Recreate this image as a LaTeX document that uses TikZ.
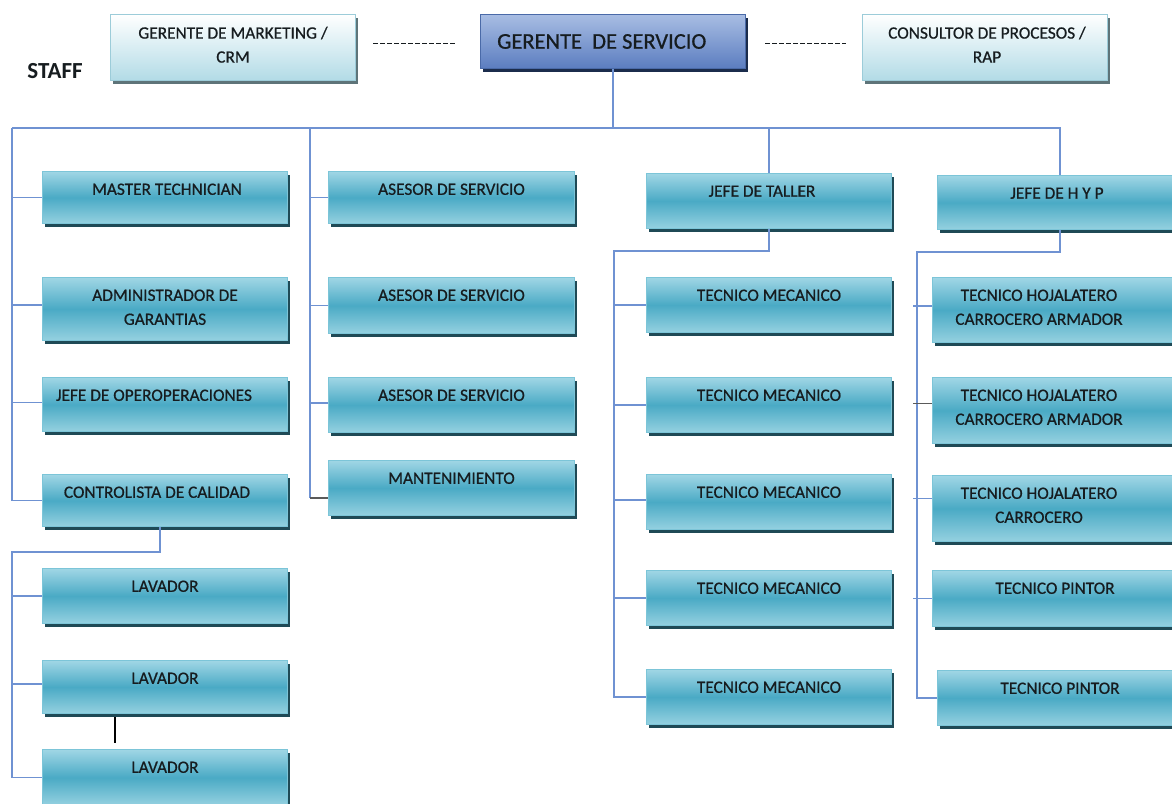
\documentclass[tikz,border=0pt]{standalone}
\usepackage{fontspec}
\setmainfont{Carlito}
\newfontfamily\boxfont{Carlito}[FakeBold=0.7]
\usetikzlibrary{shadows}

\definecolor{aquaTop}{HTML}{A0D6E5}
\definecolor{aquaMid}{HTML}{4AAAC5}
\definecolor{aquaBot}{HTML}{95D1E0}
\definecolor{aquaEdge}{HTML}{7CC5D8}
\definecolor{aquaShadow}{HTML}{1F4A56}
\definecolor{blueTop}{HTML}{A8BDE3}
\definecolor{blueBot}{HTML}{5B7DC0}
\definecolor{blueEdge}{HTML}{4A6AA8}
\definecolor{blueShadow}{HTML}{1B2C4C}
\definecolor{paleBot}{HTML}{B2DBE6}
\definecolor{paleEdge}{HTML}{9CCCD9}
\definecolor{paleShadow}{HTML}{5E7479}
\definecolor{linkBlue}{HTML}{6F92D2}
\definecolor{stubGray}{HTML}{5A5A5A}
\definecolor{ink}{HTML}{161C1F}

\tikzset{
  unitbox/.style={rectangle, inner sep=0pt, line width=1pt, draw=aquaEdge,
    top color=aquaTop, bottom color=aquaBot, middle color=aquaMid,
    drop shadow={shadow xshift=2.5pt, shadow yshift=-3pt, fill=aquaShadow, opacity=1}},
  headbox/.style={rectangle, inner sep=0pt, line width=1pt, draw=blueEdge,
    top color=blueTop, bottom color=blueBot,
    drop shadow={shadow xshift=2.5pt, shadow yshift=-3pt, fill=blueShadow, opacity=1}},
  stafbox/.style={rectangle, inner sep=0pt, line width=1pt, draw=paleEdge,
    top color=white, bottom color=paleBot,
    drop shadow={shadow xshift=2.5pt, shadow yshift=-3pt, fill=paleShadow, opacity=1}},
  boxtext/.style={inner sep=0pt, align=center, text=ink,
    font=\boxfont\fontsize{17.3}{24}\selectfont},
  conn/.style={draw=linkBlue, line width=1.9pt},
  grayconn/.style={draw=stubGray, line width=1.9pt},
  staffdash/.style={draw=ink, line width=1.3pt, dash pattern=on 4.5pt off 2.5pt},
}

% style, name, x, y (top), width, height, text x-offset, text
\newcommand\orgbox[8]{%
  \node[#1, minimum width=#5pt, minimum height=#6pt, anchor=north west] (#2) at (#3,#4) {};
  \node[boxtext, anchor=north] (#2-txt) at ([xshift=#7pt, yshift=-12.4pt]#2.north) {#8};
}

\begin{document}
\begin{tikzpicture}[x=1pt, y=-1pt]
\clip (0,0) rectangle (1172,803);
\fill[white] (0,0) rectangle (1172,803);

% ---------- top level ----------
\node[font=\bfseries\fontsize{23}{26}\selectfont, text=ink, inner sep=0pt] (staff) at (55,71) {STAFF};
\orgbox{stafbox}{mk}{110}{14}{245}{66}{0}{GERENTE DE MARKETING /\\CRM}
\orgbox{stafbox}{cs}{862}{14}{245}{66}{2}{CONSULTOR DE PROCESOS /\\RAP}
\node[headbox, minimum width=265pt, minimum height=54pt, anchor=north west] (gs) at (480,14) {};
\node[inner sep=0pt, anchor=west, text=ink, font=\boxfont\fontsize{22.5}{26}\selectfont] (gs-txt)
  at ([xshift=17pt]gs.west) {GERENTE\ \ DE SERVICIO};

\draw[staffdash, shorten <=17pt, shorten >=23pt] ([yshift=-2pt]mk.east |- gs.west) -- ([yshift=-2pt]gs.west);
\draw[staffdash, shorten <=19pt, shorten >=16pt] ([yshift=-2pt]gs.east) -- ([yshift=-2pt]gs.east -| cs.west);

% ---------- column 1 ----------
\orgbox{unitbox}{mt}{42}{171}{245}{52}{2}{MASTER TECHNICIAN}
\orgbox{unitbox}{adm}{42}{277}{245}{63}{0}{ADMINISTRADOR DE\\GARANTIAS}
\orgbox{unitbox}{jop}{42}{377}{245}{54}{-11}{JEFE DE OPEROPERACIONES}
\orgbox{unitbox}{ctl}{42}{474}{245}{52}{-8}{CONTROLISTA DE CALIDAD}
\orgbox{unitbox}{la}{42}{568}{245}{55}{0}{LAVADOR}
\orgbox{unitbox}{lb}{42}{660}{245}{53}{0}{LAVADOR}
\orgbox{unitbox}{lc}{42}{749}{245}{56}{0}{LAVADOR}

% ---------- column 2 ----------
\orgbox{unitbox}{asa}{328}{171}{246}{52}{0}{ASESOR DE SERVICIO}
\orgbox{unitbox}{asb}{328}{277}{246}{56}{0}{ASESOR DE SERVICIO}
\orgbox{unitbox}{asc}{328}{377}{246}{55}{0}{ASESOR DE SERVICIO}
\orgbox{unitbox}{mant}{328}{460}{246}{55}{0}{MANTENIMIENTO}

% ---------- column 3 ----------
\orgbox{unitbox}{jdt}{646}{173}{245}{55}{-7}{JEFE DE TALLER}
\orgbox{unitbox}{tma}{646}{277}{245}{55}{0}{TECNICO MECANICO}
\orgbox{unitbox}{tmb}{646}{377}{245}{55}{0}{TECNICO MECANICO}
\orgbox{unitbox}{tmc}{646}{474}{245}{55}{0}{TECNICO MECANICO}
\orgbox{unitbox}{tmd}{646}{570}{245}{55}{0}{TECNICO MECANICO}
\orgbox{unitbox}{tme}{646}{669}{245}{55}{0}{TECNICO MECANICO}

% ---------- column 4 ----------
\orgbox{unitbox}{hyp}{937}{175}{245}{54}{-3}{JEFE DE H Y P}
\orgbox{unitbox}{hta}{932}{277}{245}{65}{-16}{TECNICO HOJALATERO\\CARROCERO ARMADOR}
\orgbox{unitbox}{htb}{932}{377}{245}{66}{-16}{TECNICO HOJALATERO\\CARROCERO ARMADOR}
\orgbox{unitbox}{htc}{932}{475}{245}{66}{-16}{TECNICO HOJALATERO\\CARROCERO}
\orgbox{unitbox}{tpa}{932}{570}{245}{56}{0}{TECNICO PINTOR}
\orgbox{unitbox}{tpb}{937}{670}{245}{55}{0}{TECNICO PINTOR}

% ---------- connectors ----------
\coordinate (busL) at (12,128);
\coordinate (busB) at (310,128);
\draw[conn] (gs.south) -- (gs.south |- busL);
\draw[conn] (busL) -- (hyp.north |- busL) -- (hyp.north);
\draw[conn] (jdt.north |- busL) -- (jdt.north);

% column 1 trunk
\draw[conn] (busL) |- (ctl.west);
\draw[conn] (busL |- mt.west) -- (mt.west);
\draw[conn] ([yshift=4pt]busL |- adm.west) -- ([yshift=4pt]adm.west);
\draw[conn] ([yshift=2pt]busL |- jop.west) -- ([yshift=2pt]jop.west);
% washers under quality control
\coordinate (lbus) at (12,552);
\draw[conn] ([xshift=-5pt]ctl.south) |- (lbus) |- (lc.west);
\draw[conn] (lbus |- la.west) -- (la.west);
\draw[conn] ([yshift=3pt]lbus |- lb.west) -- ([yshift=3pt]lb.west);
\draw[line width=2.6pt, black] ([xshift=73pt, yshift=-3pt]lb.south west) -- ([xshift=73pt, yshift=6pt]lc.north west);

% column 2 trunk
\draw[conn] (busB) -- ([yshift=18pt]busB |- mant.south);
\draw[grayconn] ([yshift=18pt]busB |- mant.south) -- ([yshift=18pt]mant.south west);
\draw[conn] (busB |- asa.west) -- (asa.west);
\draw[conn] (busB |- asb.west) -- (asb.west);
\draw[conn] ([yshift=2pt]busB |- asc.west) -- ([yshift=2pt]asc.west);

% column 3 trunk
\coordinate (tbus) at (614,251);
\draw[conn] (jdt.south) |- (tbus) |- (tme.west);
\draw[conn] (tbus |- tma.west) -- (tma.west);
\draw[conn] (tbus |- tmb.west) -- (tmb.west);
\draw[conn] ([yshift=2pt]tbus |- tmc.west) -- ([yshift=2pt]tmc.west);
\draw[conn] (tbus |- tmd.west) -- (tmd.west);

% column 4 trunk
\coordinate (hbus) at (917,252);
\draw[conn] (hyp.south) |- (hbus) |- (tpb.west);
\draw[conn] ([xshift=-4pt, yshift=4pt]hbus |- hta.west) -- ([yshift=4pt]hta.west);
\draw[grayconn] ([xshift=-4pt, yshift=7pt]hbus |- htb.west) -- ([yshift=7pt]htb.west);
\draw[conn] ([xshift=-4pt, yshift=10pt]hbus |- htc.west) -- ([yshift=10pt]htc.west);
\draw[conn] ([xshift=-4pt]hbus |- tpa.west) -- (tpa.west);
\end{tikzpicture}
\end{document}
